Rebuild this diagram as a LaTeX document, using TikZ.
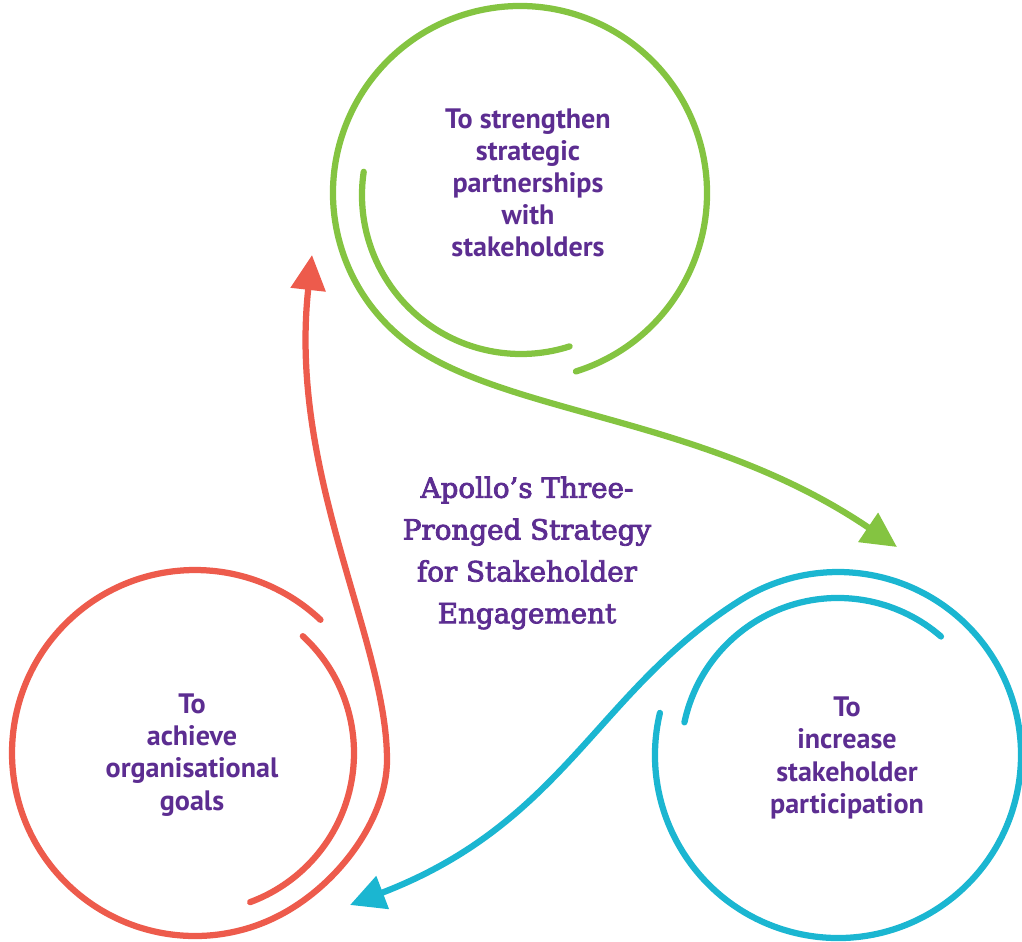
\documentclass[tikz,border=0pt]{standalone}
\usepackage{fontspec}
\newfontfamily\lblfont{PT Sans}
\newfontfamily\ttlfont{DejaVu Serif}[FakeBold=3]
\usetikzlibrary{arrows.meta}
\definecolor{ggreen}{RGB}{132,196,65}
\definecolor{gblue}{RGB}{27,182,209}
\definecolor{gred}{RGB}{237,91,76}
\definecolor{gpurple}{RGB}{92,45,145}
\begin{document}
\begin{tikzpicture}[x=0.02cm,y=-0.02cm,
  ring/.style={line width=0.125cm, line cap=round},
  tipped/.style={-{Triangle[length=0.7cm,width=0.68cm]}},
  goal/.style={align=center, text=gpurple, inner sep=0pt,
    font=\lblfont\bfseries\fontsize{16}{18.3}\selectfont},
  ttl/.style={align=center, text=gpurple, inner sep=0pt,
    font=\ttlfont\fontsize{15.8}{23.8}\selectfont}]
\useasboundingbox (0,0) rectangle (1022,941);
\coordinate (gc) at (520,193);
\coordinate (gci) at (521,195);
\coordinate (bc) at (838,755);
\coordinate (rc) at (195,753);
\coordinate (gtip) at (897,547);
\coordinate (btip) at (350,905);
\coordinate (rtip) at (312,255);
% green spiral
\draw[ring, ggreen, tipped] (gc) ++(72.6:187) arc[start angle=72.6, end angle=-235, radius=187]
  .. controls (511,415.1) and (706.8,417.7) .. (gtip);
\draw[ring, ggreen] (gci) ++(188.4:159) arc[start angle=188.4, end angle=72.2, radius=159];
% blue spiral
\draw[ring, gblue, tipped] (bc) ++(193.3:183) arc[start angle=193.3, end angle=-122, radius=183]
  .. controls (596.8,690.1) and (564.8,822.7) .. (btip);
\draw[ring, gblue] (bc) ++(-168:157) arc[start angle=-168, end angle=-49, radius=157];
% red spiral
\draw[ring, gred, tipped] (rc) ++(-46.7:183) arc[start angle=-46.7, end angle=-295, radius=183]
  .. controls (335.7,889.3) and (387,820) .. (387,760)
  .. controls (387,640) and (287.8,473.7) .. (rtip);
\draw[ring, gred] (rc) ++(-47.3:159) arc[start angle=-47.3, end angle=69.7, radius=159];
% texts
\node[goal] (gtext) at (528,183) {To strengthen\\strategic\\partnerships\\with\\stakeholders};
\node[goal] (btext) at (847,758) {To\\increase\\stakeholder\\participation};
\node[goal] (rtext) at (192,755) {To\\achieve\\organisational\\goals};
\node[ttl] (title) at (527,553) {Apollo’s Three-\\Pronged Strategy\\for Stakeholder\\Engagement};
\end{tikzpicture}
\end{document}
